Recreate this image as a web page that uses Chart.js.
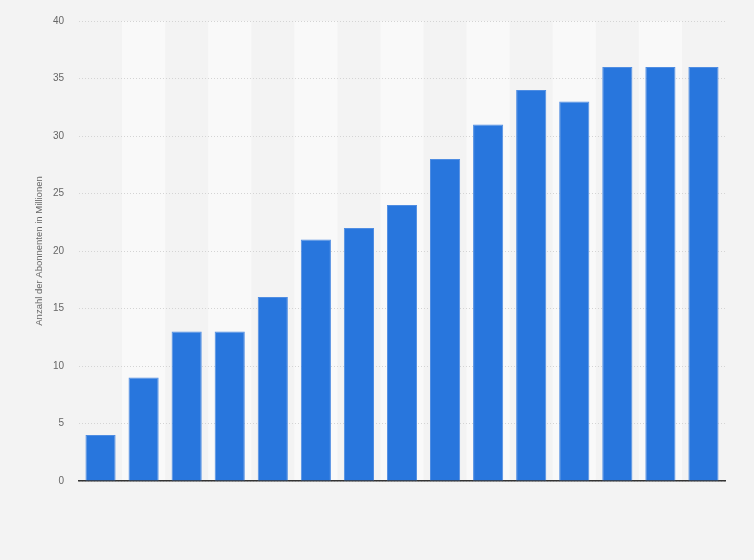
<!DOCTYPE html>
<html>
<head>
<meta charset="utf-8">
<script src="https://cdn.jsdelivr.net/npm/chart.js@4/dist/chart.umd.min.js"></script>
<style>
  html, body { margin: 0; padding: 0; background: #f3f3f3; }
  #wrap { width: 754px; height: 560px; }
</style>
</head>
<body>
<div id="wrap"><canvas id="chart" width="754" height="560"></canvas></div>
<script>
// no category labels are shown under the bars
const categories = ["", "", "", "", "", "", "", "", "", "", "", "", "", "", ""];
const subscribers = [4, 9, 13, 13, 16, 21, 22, 24, 28, 31, 34, 33, 36, 36, 36];
const yMax = 40;
const yStep = 5;
const yTitle = "Anzahl der Abonnenten in Millionen";

// page background plus alternating column stripes
const stripes = {
  id: "stripes",
  beforeDraw(chart) {
    const { ctx, chartArea, scales } = chart;
    ctx.save();
    ctx.fillStyle = "#f3f3f3";
    ctx.fillRect(0, 0, chart.width, chart.height);
    const w = chartArea.width / categories.length;
    ctx.fillStyle = "#f9f9f9";
    categories.forEach((c, i) => {
      if (i % 2 === 1) {
        const x = scales.x.getPixelForValue(i) - w / 2;
        ctx.fillRect(x, chartArea.top, w, chartArea.bottom - chartArea.top);
      }
    });
    ctx.restore();
  },
};

new Chart(document.getElementById("chart"), {
  type: "bar",
  data: {
    labels: categories,
    datasets: [
      {
        data: subscribers,
        backgroundColor: "#2876dd",
        borderColor: "#4f8de2",
        borderWidth: 1,
        barPercentage: 0.7,
        categoryPercentage: 1,
      },
    ],
  },
  options: {
    responsive: false,
    animation: false,
    layout: { padding: { top: 20, right: 29, left: 0, bottom: 0 } },
    plugins: { legend: { display: false }, tooltip: { enabled: false } },
    scales: {
      x: {
        grid: { display: false },
        border: { display: true, color: "#333333", width: 1.5 },
        ticks: { display: false },
        afterFit(scale) {
          scale.height = 79;
        },
      },
      y: {
        min: 0,
        max: yMax,
        ticks: {
          stepSize: yStep,
          padding: 15,
          color: "#666666",
          font: { family: "Liberation Sans", size: 10 },
        },
        grid: {
          color: "#d4d4d4",
          drawTicks: false,
        },
        border: { display: false, dash: [1, 2] },
        title: {
          display: true,
          text: yTitle,
          color: "#666666",
          font: { family: "Liberation Sans", size: 9.5 },
          padding: { top: 34, bottom: 0 },
        },
        afterFit(scale) {
          scale.width = 79;
        },
      },
    },
  },
  plugins: [stripes],
});
</script>
</body>
</html>
